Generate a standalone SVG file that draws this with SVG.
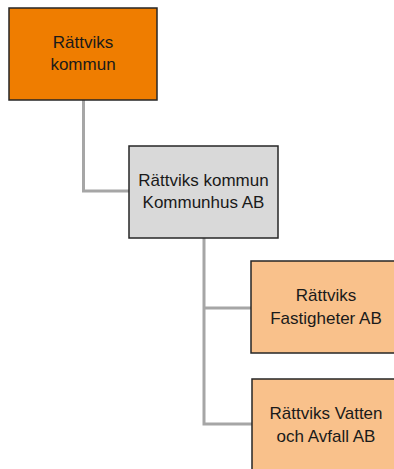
<svg xmlns="http://www.w3.org/2000/svg" width="394" height="469" viewBox="0 0 394 469">
<style>
.box{stroke:#262626;stroke-width:1.5}
.t{font-family:"Liberation Sans","DejaVu Sans",sans-serif;font-size:17px;fill:#1a1a1a;text-anchor:middle}
.c{fill:none;stroke:#A6A6A6;stroke-width:3}
</style>
<rect width="394" height="469" fill="#fff"/>
<g id="connectors">
<path class="c" d="M83.5 100 V191 H129"/>
<path class="c" d="M204 238 V424 H252 M204 308 H251"/>
</g>
<g id="n1">
<rect class="box" x="9" y="8" width="148" height="92" fill="#EF7D00"/>
<text class="t" x="83" y="48">Rättviks</text>
<text class="t" x="83" y="70">kommun</text>
</g>
<g id="n2">
<rect class="box" x="129" y="146" width="149" height="92" fill="#D9D9D9"/>
<text class="t" x="203.5" y="186">Rättviks kommun</text>
<text class="t" x="203.5" y="208">Kommunhus AB</text>
</g>
<g id="n3">
<rect class="box" x="251" y="261" width="150" height="92" fill="#F9C18B"/>
<text class="t" x="326" y="301">Rättviks</text>
<text class="t" x="326" y="324">Fastigheter AB</text>
</g>
<g id="n4">
<rect class="box" x="252" y="379" width="150" height="100" fill="#F9C18B"/>
<text class="t" x="326" y="419">Rättviks Vatten</text>
<text class="t" x="326" y="442">och Avfall AB</text>
</g>
</svg>
